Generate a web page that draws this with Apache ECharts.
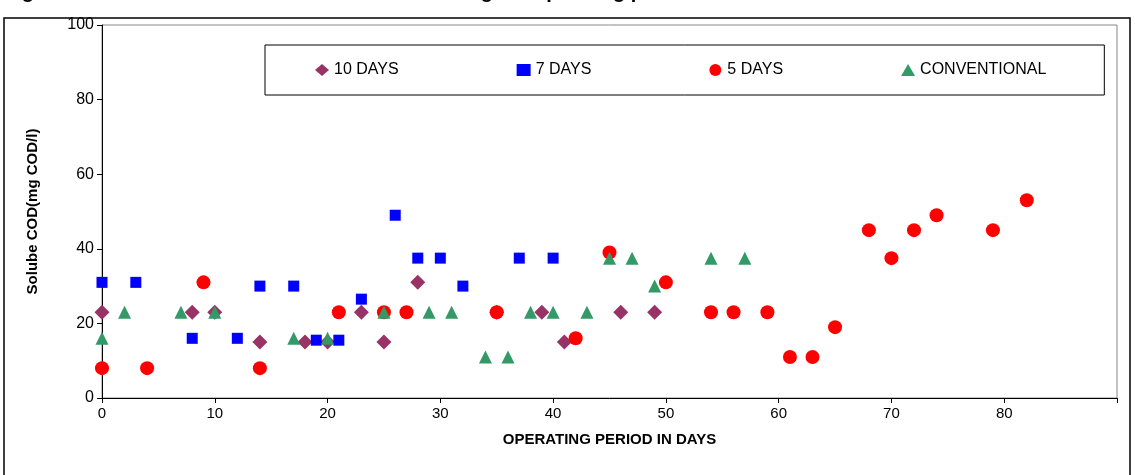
<!DOCTYPE html>
<html>
<head>
<meta charset="utf-8">
<script src="https://cdn.jsdelivr.net/npm/echarts@6/dist/echarts.min.js"></script>
<style>html,body{margin:0;padding:0;background:#fff;}#chart{width:1135px;height:475px;}</style>
</head>
<body>
<div id="chart"></div>
<script>
var tenDays = [[0,23],[8,23],[10,23],[14,15],[18,15],[20,15],[23,23],[25,15],[28,31],[35,23],[39,23],[41,15],[46,23],[49,23]];
var sevenDays = [[0,31],[3,31],[8,16],[12,16],[14,30],[17,30],[19,15.5],[21,15.5],[23,26.5],[26,49],[28,37.5],[30,37.5],[32,30],[37,37.5],[40,37.5]];
var fiveDays = [[0,8],[4,8],[9,31],[14,8],[21,23],[25,23],[27,23],[35,23],[42,16],[45,39],[50,31],[54,23],[56,23],[59,23],[61,11],[63,11],[65,19],[68,45],[70,37.5],[72,45],[74,49],[79,45],[82,53]];
var conventional = [[0,16],[2,23],[7,23],[10,23],[17,16],[20,16],[25,23],[29,23],[31,23],[34,11],[36,11],[38,23],[40,23],[43,23],[45,37.5],[47,37.5],[49,30],[54,37.5],[57,37.5]];

var myChart = echarts.init(document.getElementById('chart'));
var font = 'Liberation Sans, Arial, sans-serif';
option = {
    animation: false,
    textStyle: {fontFamily: font},
    graphic: [
        {type: 'rect', shape: {x: 4, y: 18, width: 1126, height: 470}, style: {fill: 'none', stroke: '#000', lineWidth: 1.5}},
        {type: 'text', left: 4, top: -18, style: {text: 'Figure: Soluble COD variation in the effluent during the operating period for different HRT', font: 'bold 20px ' + font, fill: '#000'}}
    ],
    grid: {left: 102, top: 25, right: 18, bottom: 77, show: true, borderColor: '#888', borderWidth: 1},
    legend: {
        left: 265, top: 45, itemGap: 118,
        padding: [17, 58, 17, 50],
        borderColor: '#000', borderWidth: 1,
        itemWidth: 14, itemHeight: 12,
        textStyle: {fontSize: 16, color: '#000', fontFamily: font},
        data: ['10 DAYS', '7 DAYS', '5 DAYS', 'CONVENTIONAL']
    },
    xAxis: {
        type: 'value', min: 0, max: 90, interval: 10,
        name: 'OPERATING PERIOD IN DAYS', nameLocation: 'middle', nameGap: 34,
        nameTextStyle: {fontWeight: 'bold', fontSize: 15, color: '#000'},
        axisLine: {onZero: false, lineStyle: {color: '#000'}},
        axisTick: {lineStyle: {color: '#000'}},
        axisLabel: {fontSize: 15, color: '#000', formatter: function (v) { return v > 80 ? '' : v; }},
        splitLine: {show: false}
    },
    yAxis: {
        type: 'value', min: 0, max: 100, interval: 20,
        name: 'Solube COD(mg COD/l)', nameLocation: 'middle', nameGap: 62,
        nameTextStyle: {fontWeight: 'bold', fontSize: 15, color: '#000'},
        axisLine: {show: true, lineStyle: {color: '#000'}},
        axisTick: {show: true, lineStyle: {color: '#000'}},
        axisLabel: {fontSize: 16, color: '#000'},
        splitLine: {show: false}
    },
    series: [
        {name: '10 DAYS', type: 'scatter', symbol: 'diamond', symbolSize: 15, itemStyle: {color: '#993366', opacity: 1}, data: tenDays},
        {name: '7 DAYS', type: 'scatter', symbol: 'rect', symbolSize: 11, itemStyle: {color: '#0000FF', opacity: 1}, data: sevenDays},
        {name: '5 DAYS', type: 'scatter', symbol: 'circle', symbolSize: 14, itemStyle: {color: '#FF0000', opacity: 1}, data: fiveDays},
        {name: 'CONVENTIONAL', type: 'scatter', symbol: 'triangle', symbolSize: 13, itemStyle: {color: '#339966', opacity: 1}, data: conventional}
    ]
};
myChart.setOption(option);
</script>
</body>
</html>
